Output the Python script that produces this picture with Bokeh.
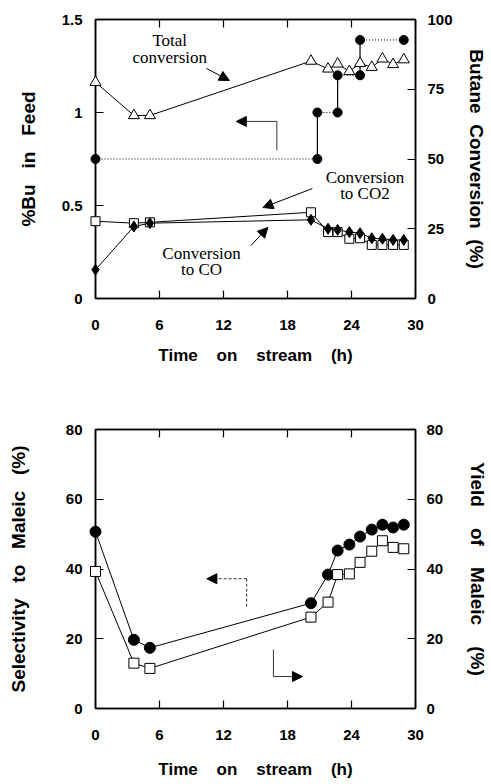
from bokeh.plotting import figure
from bokeh.models import (Range1d, LinearAxis, FixedTicker, NumeralTickFormatter,
                          Label, Arrow, NormalHead)
from bokeh.layouts import column
from bokeh.embed import file_html
from bokeh.resources import INLINE

# ---------------- data ----------------
time_h = [0, 3.6, 5.1, 20.2, 21.8, 22.7, 23.8, 24.8, 25.9, 26.9, 27.9, 28.9]
total_conversion = [77.5, 65.6, 65.6, 85.1, 82.3, 84.1, 81.4, 84.3, 82.9, 85.9, 83.9, 85.6]
co2_conversion = [27.7, 27.0, 27.3, 30.9, 23.8, 23.8, 21.4, 21.6, 19.2, 19.2, 19.2, 19.2]
co_conversion = [10.3, 25.8, 27.0, 28.2, 25.0, 24.6, 23.8, 23.4, 21.6, 21.4, 21.0, 21.0]
bu_time = [0, 20.8, 20.8, 22.7, 22.7, 24.8, 24.8, 28.9]
bu_feed = [0.75, 0.75, 1.0, 1.0, 1.2, 1.2, 1.39, 1.39]

selectivity = [50.7, 19.7, 17.4, 30.2, 38.4, 45.3, 47.0, 49.3, 51.3, 52.7, 51.9, 52.7]
maleic_yield = [39.3, 13.0, 11.5, 26.2, 30.5, 38.4, 38.6, 41.9, 45.1, 48.1, 46.2, 45.8]

x_ticks = [0, 6, 12, 18, 24, 30]
bu_ticks = [0, 0.5, 1, 1.5]
conv_ticks = [0, 25, 50, 75, 100]
pct_ticks = [0, 20, 40, 60, 80]

SANS = "Liberation Sans"
SERIF = "Liberation Serif"
NB = "\u00a0"


def spaced(text, n=3):
    # wide word gaps as in the original typesetting
    return (NB * (n - 1) + " ").join(text.split(" "))


def style_axis(ax, ticks, standoff, label_standoff=10, show_labels=True):
    ax.ticker = FixedTicker(ticks=ticks)
    ax.major_tick_in = 8
    ax.major_tick_out = 0
    ax.minor_tick_line_color = None
    ax.major_tick_line_width = 1.2
    ax.axis_line_color = "black"
    ax.axis_line_width = 1.5
    ax.major_label_text_font = SANS
    ax.major_label_text_font_style = "bold"
    ax.major_label_text_font_size = "15px"
    ax.major_label_text_color = "black" if show_labels else None
    ax.major_label_standoff = standoff
    ax.axis_label_text_font = SANS
    ax.axis_label_text_font_style = "bold"
    ax.axis_label_text_font_size = "19px"
    ax.axis_label_text_color = "black"
    ax.axis_label_standoff = label_standoff


def base_fig(height, y_end, borders):
    l, r, t, b = borders
    p = figure(width=491, height=height, x_range=Range1d(0, 30), y_range=Range1d(0, y_end),
               output_backend="svg", toolbar_location=None,
               min_border_left=l, min_border_right=r, min_border_top=t, min_border_bottom=b)
    p.grid.visible = False
    p.outline_line_color = "black"
    p.outline_line_width = 1.5
    p.background_fill_color = "white"
    p.border_fill_color = "white"
    return p


def add_top_ticks(p):
    top_ax = LinearAxis()
    style_axis(top_ax, x_ticks, 0, show_labels=False)
    top_ax.major_label_text_font_size = "1px"
    p.add_layout(top_ax, "above")


def unclip(r):
    r.level = "overlay"
    if "clip" in r.properties():
        r.clip = False
    return r


def arrow(p, x0, y0, x1, y1, head=True, dash="solid", width=1.0):
    end = NormalHead(size=10, fill_color="black", line_color="black", line_width=1) if head else None
    p.add_layout(Arrow(end=end, x_start=x0, y_start=y0, x_end=x1, y_end=y1,
                       line_color="black", line_width=width, line_dash=dash))


def label(p, x, y, text):
    p.add_layout(Label(x=x, y=y, text=text, text_align="center", text_baseline="middle",
                       text_font=SERIF, text_font_size="17px", text_color="black"))


# ---------------- top chart ----------------
p1 = base_fig(400, 1.5, (93, 75, 19, 102))
p1.extra_y_ranges = {"pct": Range1d(0, 100)}
xb1 = p1.below[0]
style_axis(xb1, x_ticks, 21, 13)
xb1.axis_label = spaced("Time on stream (h)", 4)
xb1.axis_label_text_font_size = "17px"
yl1 = p1.left[0]
style_axis(yl1, bu_ticks, 13, 20)
yl1.formatter = NumeralTickFormatter(format="0.[0]")
yl1.axis_label = spaced("%Bu in Feed")
right1 = LinearAxis(y_range_name="pct", axis_label=spaced("Butane Conversion (%)", 2))
style_axis(right1, conv_ticks, 12, 10)
p1.add_layout(right1, "right")
add_top_ticks(p1)

# Bu in feed: steps (horizontal dotted, vertical solid)
h_x, h_y, v_x, v_y = [], [], [], []
for i in range(len(bu_time) - 1):
    seg_x = [bu_time[i], bu_time[i + 1]]
    seg_y = [bu_feed[i], bu_feed[i + 1]]
    if bu_feed[i] == bu_feed[i + 1]:
        h_x.append(seg_x); h_y.append(seg_y)
    else:
        v_x.append(seg_x); v_y.append(seg_y)
p1.multi_line(h_x, h_y, line_color="black", line_width=1, line_dash="1 2")
p1.multi_line(v_x, v_y, line_color="black", line_width=1.2)

p1.line(time_h, total_conversion, y_range_name="pct", line_color="black", line_width=1)
p1.line(time_h, co2_conversion, y_range_name="pct", line_color="black", line_width=1)
p1.line(time_h, co_conversion, y_range_name="pct", line_color="black", line_width=1)

unclip(p1.scatter(bu_time, bu_feed, marker="circle", size=9, fill_color="black", line_color="black"))
unclip(p1.scatter(time_h, co2_conversion, y_range_name="pct", marker="square", size=9,
                  fill_color="white", line_color="black", line_width=1))
unclip(p1.scatter(time_h, co_conversion, y_range_name="pct", marker="diamond", size=11,
                  fill_color="black", line_color="black"))
unclip(p1.scatter(time_h, total_conversion, y_range_name="pct", marker="triangle", size=11,
                  fill_color="white", line_color="black", line_width=1))

label(p1, 6.96, 1.387, "Total")
label(p1, 6.96, 1.296, "conversion")
arrow(p1, 10.4, 1.237, 12.55, 1.172)
arrow(p1, 17.0, 0.796, 17.0, 0.952, head=False, width=0.8)
arrow(p1, 17.0, 0.952, 13.2, 0.952, width=0.8)
label(p1, 25.26, 0.651, "Conversion")
label(p1, 25.26, 0.565, "to CO2")
arrow(p1, 20.33, 0.591, 15.7, 0.489)
label(p1, 9.94, 0.242, "Conversion")
label(p1, 9.94, 0.156, "to CO")
arrow(p1, 14.58, 0.285, 16.16, 0.382)

# ---------------- bottom chart ----------------
p2 = base_fig(384, 80, (95, 74, 29, 76))
p2.extra_y_ranges = {"yield": Range1d(0, 80)}
xb2 = p2.below[0]
style_axis(xb2, x_ticks, 21, 17)
xb2.axis_label = spaced("Time on stream (h)", 4)
xb2.axis_label_text_font_size = "17px"
yl2 = p2.left[0]
style_axis(yl2, pct_ticks, 13, 34)
yl2.axis_label = spaced("Selectivity to Maleic (%)")
right2 = LinearAxis(y_range_name="yield", axis_label=spaced("Yield of Maleic (%)", 4))
style_axis(right2, pct_ticks, 11, 21)
p2.add_layout(right2, "right")
add_top_ticks(p2)

p2.line(time_h, selectivity, line_color="black", line_width=1)
p2.line(time_h, maleic_yield, y_range_name="yield", line_color="black", line_width=1)
unclip(p2.scatter(time_h, selectivity, marker="circle", size=11, fill_color="black", line_color="black"))
unclip(p2.scatter(time_h, maleic_yield, y_range_name="yield", marker="square", size=10,
                  fill_color="white", line_color="black", line_width=1))

arrow(p2, 14.17, 29.2, 14.17, 37.2, head=False, dash="3 2", width=0.8)
arrow(p2, 14.17, 37.2, 10.44, 37.2, dash="3 2", width=0.8)
arrow(p2, 16.68, 16.9, 16.68, 9.17, head=False, width=0.8)
arrow(p2, 16.68, 9.17, 19.4, 9.17, width=0.8)

layout = column(p1, p2)
open("out.html", "w").write(file_html(layout, INLINE))
